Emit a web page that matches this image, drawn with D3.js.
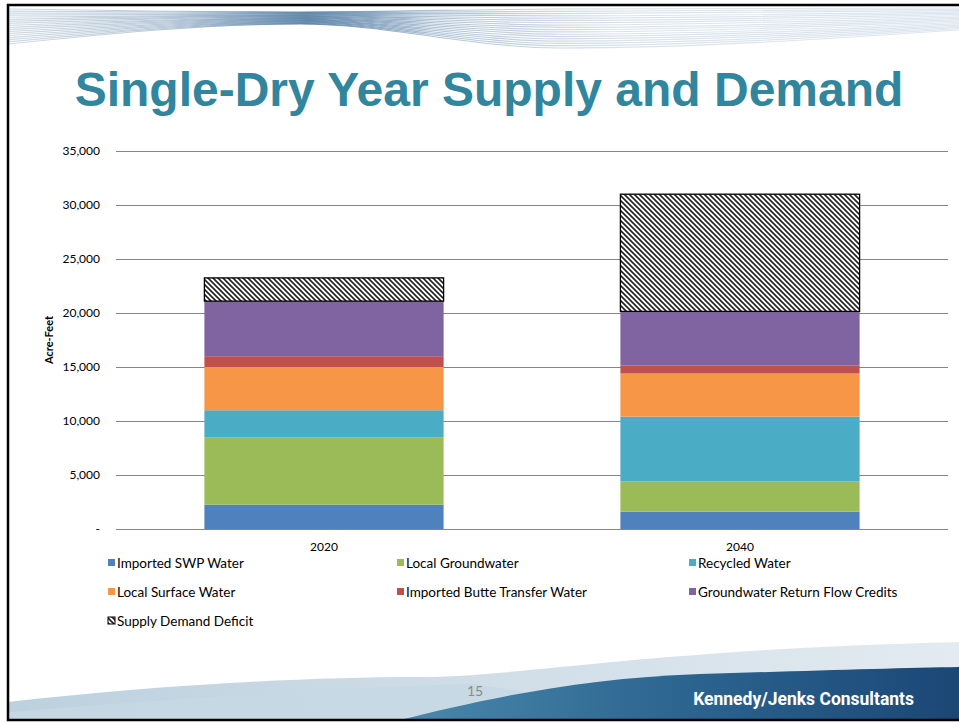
<!DOCTYPE html>
<html>
<head>
<meta charset="utf-8">
<script src="https://cdn.jsdelivr.net/npm/d3@7/dist/d3.min.js"></script>
<style>
  html, body { margin: 0; padding: 0; background: #ffffff; }
  svg { display: block; }
  .axis text { font-family: Lato, "Open Sans", sans-serif; font-size: 12px; fill: #000; }
  .legend text { font-family: Lato, "Open Sans", sans-serif; font-size: 13.5px; fill: #000; }
</style>
</head>
<body>
<svg id="slide" width="959" height="723"></svg>
<script>
// ---- data (acre-feet) ----
const categories = ["2020", "2040"];
const seriesNames = [
  "Imported SWP Water", "Local Groundwater", "Recycled Water",
  "Local Surface Water", "Imported Butte Transfer Water",
  "Groundwater Return Flow Credits", "Supply Demand Deficit"
];
const importedSWP        = [2250, 1600];
const localGroundwater   = [6250, 2800];
const recycledWater      = [2500, 6000];
const localSurfaceWater  = [4000, 4000];
const importedButte      = [1000, 750];
const returnFlowCredits  = [5100, 5000];
const supplyDeficit      = [2150, 10850];
const yTicks = [0, 5000, 10000, 15000, 20000, 25000, 30000, 35000];
const seriesColors = ["#4F81BD", "#9BBB59", "#4BACC6", "#F79646", "#C0504D", "#8064A2", "url(#hatch)"];

const svg = d3.select("#slide");
const W = 959, H = 723;
const defs = svg.append("defs");

// hatch pattern for the deficit segment
const hatch = defs.append("pattern")
  .attr("id", "hatch").attr("patternUnits", "userSpaceOnUse")
  .attr("width", 5).attr("height", 5);
hatch.append("rect").attr("width", 5).attr("height", 5).attr("fill", "#fff");
hatch.append("path")
  .attr("d", "M-1,-1 L6,6 M-1,4 L1,6 M4,-1 L6,1")
  .attr("stroke", "#222").attr("stroke-width", 1.6);

// ---- header ribbon ----
const topGrad = defs.append("linearGradient").attr("id", "topGrad")
  .attr("gradientUnits", "userSpaceOnUse").attr("x1", 0).attr("x2", W).attr("y1", 0).attr("y2", 0);
[[0, "#cdd8e2"], [0.18, "#b0c3d5"], [0.32, "#5a82a8"], [0.45, "#a4bbd0"], [0.65, "#d6e0ea"], [1, "#dbe4ed"]]
  .forEach(([o, c]) => topGrad.append("stop").attr("offset", o).attr("stop-color", c));

const nLines = 18;
const topEdge = [[8, 9], [300, 12], [560, 9], [959, 8]];
const botEdge = [[8, 44], [300, 24], [560, 48], [959, 30]];
const ribbonLine = d3.line().curve(d3.curveMonotoneX);
d3.range(nLines).forEach(i => {
  const t = i / (nLines - 1);
  const pts = topEdge.map((p, k) => [p[0], p[1] + (botEdge[k][1] - p[1]) * t]);
  svg.append("path").attr("d", ribbonLine(pts))
    .attr("fill", "none").attr("stroke", "url(#topGrad)")
    .attr("stroke-width", 1.2).attr("opacity", 0.9);
});

// ---- footer waves ----
const paleGrad = defs.append("linearGradient").attr("id", "paleGrad");
paleGrad.append("stop").attr("offset", 0).attr("stop-color", "#bcd0de");
paleGrad.append("stop").attr("offset", 1).attr("stop-color", "#e3ebf1");
const darkGrad = defs.append("linearGradient").attr("id", "darkGrad");
darkGrad.append("stop").attr("offset", 0).attr("stop-color", "#4a88ad");
darkGrad.append("stop").attr("offset", 0.5).attr("stop-color", "#2c6590");
darkGrad.append("stop").attr("offset", 1).attr("stop-color", "#1b4775");

svg.append("path")
  .attr("d", "M8,702 C150,686 300,677 420,677 C520,677 640,650 959,642 L959,720 L8,720 Z")
  .attr("fill", "url(#paleGrad)");
svg.append("path")
  .attr("d", "M8,712 C160,700 330,688 470,684 C520,690 560,700 600,705 L600,720 L8,720 Z")
  .attr("fill", "#c5d8e4").attr("opacity", 0.8);
svg.append("path")
  .attr("d", "M400,720 C480,700 580,678 700,674 C800,671 900,668 959,667 L959,720 Z")
  .attr("fill", "url(#darkGrad)");

svg.append("text").attr("x", 475).attr("y", 696).attr("text-anchor", "middle")
  .attr("font-family", "Lato, sans-serif").attr("font-size", 14).attr("fill", "#8a8a8a")
  .text("15");
svg.append("text").attr("x", 914).attr("y", 705).attr("text-anchor", "end")
  .attr("font-family", "'Liberation Sans Narrow', Roboto, sans-serif").attr("font-weight", "bold")
  .attr("font-size", 17.5).attr("fill", "#ffffff")
  .text("Kennedy/Jenks Consultants");

// slide frame
svg.append("rect").attr("x", 8).attr("y", 5).attr("width", 960).attr("height", 715)
  .attr("fill", "none").attr("stroke", "#000").attr("stroke-width", 2.5);

// ---- title ----
svg.append("text").attr("x", 489).attr("y", 106).attr("text-anchor", "middle")
  .attr("font-family", "'Liberation Sans', Arial, sans-serif").attr("font-weight", "bold")
  .attr("font-size", 48).attr("fill", "#31859C")
  .text("Single-Dry Year Supply and Demand");

// ---- chart ----
const plot = { left: 116, right: 948, top: 151, bottom: 529 };
const x = d3.scaleBand().domain(categories).range([plot.left, plot.right])
  .paddingInner(0.425).paddingOuter(0.2125);
const y = d3.scaleLinear().domain([0, 35000]).range([plot.bottom, plot.top]);

const yAxis = d3.axisLeft(y).tickValues(yTicks)
  .tickFormat(v => v === 0 ? "-" : d3.format(",")(v))
  .tickSize(-(plot.right - plot.left)).tickPadding(16);
const gy = svg.append("g").attr("class", "axis").attr("transform", `translate(${plot.left},0)`).call(yAxis);
gy.select(".domain").remove();
gy.selectAll(".tick line").attr("stroke", "#868686").attr("stroke-width", 1);

svg.append("text").attr("transform", `translate(53,340) rotate(-90)`)
  .attr("text-anchor", "middle").attr("font-family", "Lato, sans-serif")
  .attr("font-weight", "bold").attr("font-size", 11).text("Acre-Feet");

const gx = svg.append("g").attr("class", "axis").attr("transform", `translate(0,${plot.bottom})`)
  .call(d3.axisBottom(x).tickSize(0).tickPadding(13));
gx.select(".domain").remove();

// stacked segments
const seriesData = [importedSWP, localGroundwater, recycledWater, localSurfaceWater,
  importedButte, returnFlowCredits, supplyDeficit];
const rows = categories.map((c, i) => {
  const r = { cat: c };
  seriesNames.forEach((s, k) => r[s] = seriesData[k][i]);
  return r;
});
const stacked = d3.stack().keys(seriesNames)(rows);
stacked.forEach((layer, k) => {
  svg.append("g").selectAll("rect").data(layer).join("rect")
    .attr("x", d => x(d.data.cat))
    .attr("width", x.bandwidth())
    .attr("y", d => y(d[1]))
    .attr("height", d => y(d[0]) - y(d[1]))
    .attr("fill", seriesColors[k])
    .attr("stroke", k === 6 ? "#000" : "none")
    .attr("stroke-width", k === 6 ? 1.3 : 0);
});

// ---- legend ----
const legendCols = [108, 397, 689];
const legendRows = [563, 592, 621];
const lg = svg.append("g").attr("class", "legend");
seriesNames.forEach((s, k) => {
  const cx = legendCols[k % 3], cy = legendRows[Math.floor(k / 3)];
  lg.append("rect").attr("x", cx).attr("y", cy - 4).attr("width", 7).attr("height", 7)
    .attr("fill", seriesColors[k])
    .attr("stroke", k === 6 ? "#000" : "none").attr("stroke-width", 1);
  lg.append("text").attr("x", cx + 9).attr("y", cy).attr("dy", "0.35em").text(s);
});
</script>
</body>
</html>
